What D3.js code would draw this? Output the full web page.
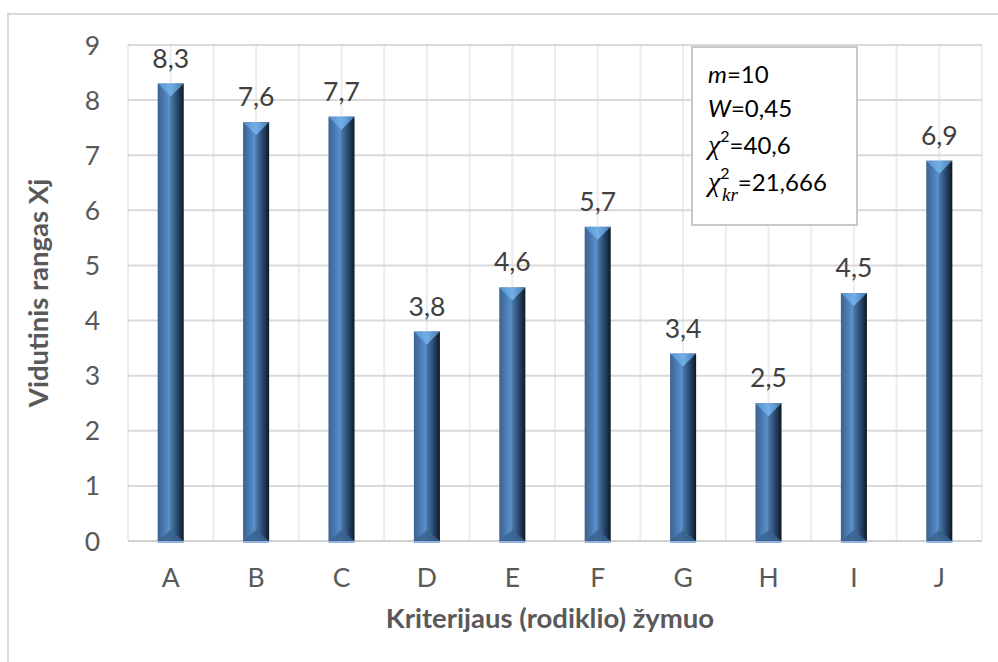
<!DOCTYPE html>
<html><head><meta charset="utf-8">
<script src="https://cdn.jsdelivr.net/npm/d3@7"></script>
<style>body{margin:0;background:#fff}svg{display:block}</style>
</head><body><svg id="c" width="998" height="662"></svg>
<script>
const categories = ["A","B","C","D","E","F","G","H","I","J"];
const values = [8.3,7.6,7.7,3.8,4.6,5.7,3.4,2.5,4.5,6.9];
const yTicks = [0,1,2,3,4,5,6,7,8,9];
const xTitle = "Kriterijaus (rodiklio) žymuo";
const yTitle = "Vidutinis rangas Xj";
const statM = "10";
const statW = "0,45";
const statChi = "40,6";
const statChiKr = "21,666";

(function () {
const svg = d3.select("#c");
const F = "Lato, 'Open Sans', sans-serif";
const fmt = v => d3.format(".1f")(v).replace(".", ",");

const pL = 128, pR = 982, pT = 45, pB = 541;
const x = d3.scaleBand().domain(categories).range([pL, pR]).paddingInner(0.695).paddingOuter(0.3475);
const y = d3.scaleLinear().domain([0, 9]).range([pB, pT]);
const step = x.step(), bw = x.bandwidth();

// outer chart border (cropped at right / bottom)
svg.append("rect").attr("x", 8).attr("y", 14).attr("width", 1200).attr("height", 1000)
  .attr("fill", "#fff").attr("stroke", "#d9d9d9").attr("stroke-width", 2);

const defs = svg.append("defs");
const g1 = defs.append("linearGradient").attr("id", "barG").attr("x1", 0).attr("x2", 1).attr("y1", 0).attr("y2", 0);
[[0, "#3b6290"], [0.25, "#4a7bb2"], [0.45, "#5b91cc"], [0.5, "#4a78aa"], [0.7, "#30527a"], [0.88, "#1c3049"], [1, "#0e1722"]]
  .forEach(([o, c]) => g1.append("stop").attr("offset", o).attr("stop-color", c));
const g2 = defs.append("linearGradient").attr("id", "capG").attr("x1", 0).attr("x2", 1).attr("y1", 0).attr("y2", 0);
[[0, "#5590cc"], [0.5, "#72afe8"], [1, "#4778ad"]]
  .forEach(([o, c]) => g2.append("stop").attr("offset", o).attr("stop-color", c));

// vertical grid (category boundaries and centers)
const vLines = [];
categories.forEach(c => { const cx = x(c) + bw / 2; vLines.push(cx - step / 2, cx); });
vLines.push(pR);
svg.append("g").selectAll("line").data(vLines).join("line")
  .attr("x1", d => d).attr("x2", d => d).attr("y1", pT).attr("y2", pB)
  .attr("stroke", "#ececec").attr("stroke-width", 2);

// horizontal grid
svg.append("g").selectAll("line").data(yTicks.filter(t => t > 0)).join("line")
  .attr("x1", pL).attr("x2", pR).attr("y1", d => y(d)).attr("y2", d => y(d))
  .attr("stroke", "#d9d9d9").attr("stroke-width", 2);
// axis line
svg.append("line").attr("x1", pL).attr("x2", pR).attr("y1", pB).attr("y2", pB)
  .attr("stroke", "#d0d0d0").attr("stroke-width", 2);

// y tick labels
svg.append("g").selectAll("text").data(yTicks).join("text")
  .attr("x", 100).attr("y", d => y(d) + 9.5).attr("text-anchor", "end")
  .attr("font-family", F).attr("font-size", 26.5).attr("fill", "#595959").text(d => d);

// x tick labels
svg.append("g").selectAll("text").data(categories).join("text")
  .attr("x", d => x(d) + bw / 2).attr("y", 587).attr("text-anchor", "middle")
  .attr("font-family", F).attr("font-size", 26.5).attr("fill", "#595959").text(d => d);

// bars
const bars = svg.append("g").selectAll("g").data(categories.map((c, i) => ({ c, v: values[i] }))).join("g");
bars.append("rect").attr("x", d => x(d.c)).attr("y", d => y(d.v)).attr("width", bw)
  .attr("height", d => pB - y(d.v)).attr("fill", "url(#barG)");
bars.append("path").attr("d", d => {
  const x0 = x(d.c), x1 = x0 + bw, cx = x0 + bw / 2, t = y(d.v);
  return `M${x0},${t}L${x1},${t}L${cx},${t + 13}Z`;
}).attr("fill", "url(#capG)");
bars.append("path").attr("d", d => {
  const x0 = x(d.c), x1 = x0 + bw, cx = x0 + bw / 2;
  return `M${x0},${pB}L${x1},${pB}L${cx},${pB - 11}Z`;
}).attr("fill", "#3a6391").attr("opacity", 0.85);
bars.append("line").attr("x1", d => x(d.c)).attr("x2", d => x(d.c) + bw).attr("y1", pB + 1).attr("y2", pB + 1)
  .attr("stroke", "#8fb3dc").attr("stroke-width", 2);

// value labels
bars.append("text").attr("x", d => x(d.c) + bw / 2).attr("y", d => y(d.v) - 16)
  .attr("text-anchor", "middle").attr("font-family", F).attr("font-size", 26.5).attr("fill", "#404040")
  .text(d => fmt(d.v));

// axis titles
svg.append("text").attr("x", (pL + pR) / 2 - 5).attr("y", 628).attr("text-anchor", "middle")
  .attr("font-family", F).attr("font-weight", "bold").attr("font-size", 27.5).attr("fill", "#595959").text(xTitle);
svg.append("text").attr("transform", `translate(48,${(pT + pB) / 2}) rotate(-90)`).attr("text-anchor", "middle")
  .attr("font-family", F).attr("font-weight", "bold").attr("font-size", 27.5).attr("fill", "#595959").text(yTitle);

// stats box
svg.append("rect").attr("x", 692).attr("y", 47).attr("width", 165).attr("height", 178)
  .attr("fill", "#fff").attr("stroke", "#c8c8c8").attr("stroke-width", 2);
const st = svg.append("g").attr("font-family", F).attr("font-size", 24).attr("fill", "#000");
const SER = "'Liberation Serif', 'DejaVu Serif', serif";
const t1 = st.append("text").attr("x", 708).attr("y", 83);
t1.append("tspan").attr("font-style", "italic").text("m");
t1.append("tspan").text("=" + statM);
const t2 = st.append("text").attr("x", 708).attr("y", 117);
t2.append("tspan").attr("font-style", "italic").text("W");
t2.append("tspan").text("=" + statW);
const t3 = st.append("text").attr("x", 708).attr("y", 154);
t3.append("tspan").attr("font-family", SER).attr("font-style", "italic").attr("font-size", 28).text("χ");
t3.append("tspan").attr("font-size", 16).attr("dy", -12).text("2");
t3.append("tspan").attr("dy", 12).text("=" + statChi);
const t4 = st.append("text").attr("x", 708).attr("y", 191);
t4.append("tspan").attr("font-family", SER).attr("font-style", "italic").attr("font-size", 28).text("χ");
t4.append("tspan").attr("font-size", 16).attr("dy", -12).text("2");
t4.append("tspan").attr("x", 722).attr("dy", 22).attr("font-family", SER).attr("font-style", "italic").attr("font-size", 19).text("kr");
t4.append("tspan").attr("dy", -10).text("=" + statChiKr);
})();
</script></body></html>
